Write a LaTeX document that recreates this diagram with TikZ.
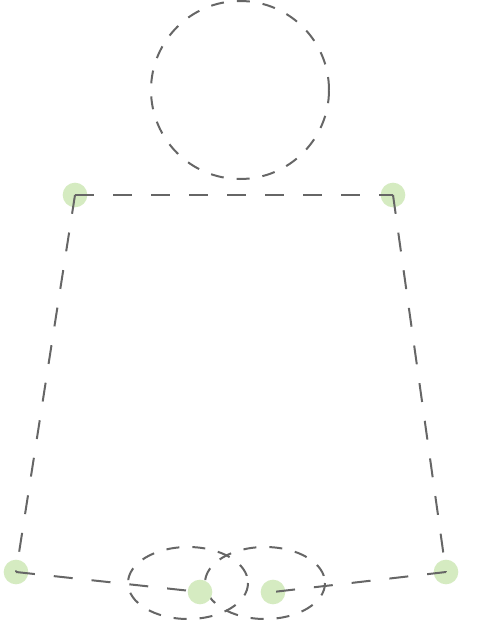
\documentclass[tikz,border=0pt]{standalone}
\usepackage{tikz}
\usetikzlibrary{positioning}

\definecolor{jointgreen}{RGB}{213,235,193}
\definecolor{limbgray}{RGB}{102,102,102}
\tikzset{
  joint/.style={circle,fill=jointgreen,draw=none,inner sep=0pt,minimum size=18.5pt},
  limb/.style={draw=limbgray,line width=1.5pt,dash pattern=on 14.25pt off 14.25pt},
  outline/.style={draw=limbgray,line width=1.5pt,dash pattern=on 9.75pt off 9.75pt}
}

\begin{document}
\begin{tikzpicture}[x=0.75pt,y=-0.75pt]
\useasboundingbox (0,0) rectangle (480,640);

% head and feet
\node[outline,circle,minimum size=133.5pt,inner sep=0pt] (head) at (240,90) {};
\draw[outline] (188,583) ellipse [x radius=60, y radius=36];
\draw[outline] (265,583) ellipse [x radius=60, y radius=36];

% joints
\node[joint] (shoulderL) at (75,195) {};
\node[joint] (shoulderR) at (393,195) {};
\node[joint] (handL) at (16,572) {};
\node[joint] (handR) at (446,572) {};
\node[joint] (footL) at (200,592) {};
\node[joint] (footR) at (273,592) {};

\draw[limb] (shoulderL.center) -- (shoulderR.center);
\draw[limb] (shoulderL.center) -- (handL.center);
\draw[limb] (shoulderR.center) -- (handR.center);
\draw[limb] (handL.center) -- (footL.center);
\draw[limb] (handR.center) -- (footR.center);

\end{tikzpicture}
\end{document}
